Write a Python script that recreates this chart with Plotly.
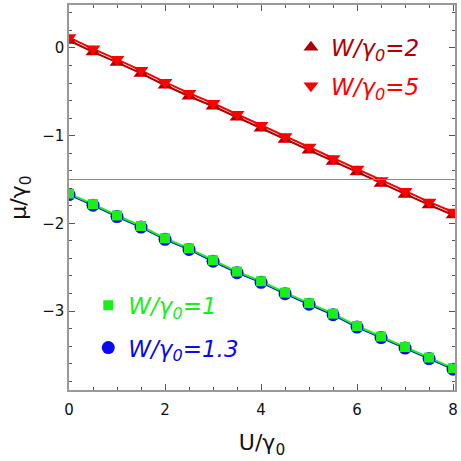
import plotly.graph_objects as go

# U / gamma_0 grid
u_vals = [0, 0.5, 1, 1.5, 2, 2.5, 3, 3.5, 4, 4.5, 5, 5.5, 6, 6.5, 7, 7.5, 8]

# mu / gamma_0 for each W / gamma_0
mu_w2 = [0.085, -0.045, -0.165, -0.29, -0.425, -0.55, -0.665, -0.79, -0.915, -1.045, -1.165,
         -1.295, -1.415, -1.545, -1.67, -1.79, -1.905]
mu_w5 = [0.12, -0.01, -0.13, -0.255, -0.39, -0.515, -0.63, -0.755, -0.88, -1.01, -1.13,
         -1.26, -1.38, -1.51, -1.635, -1.755, -1.87]
mu_w1 = [-1.66, -1.78, -1.91, -2.03, -2.17, -2.285, -2.42, -2.55, -2.66, -2.79, -2.91,
         -3.03, -3.17, -3.29, -3.41, -3.53, -3.65]
mu_w13 = [-1.672, -1.792, -1.922, -2.042, -2.182, -2.297, -2.432, -2.562, -2.672, -2.802, -2.922,
          -3.042, -3.182, -3.302, -3.422, -3.542, -3.662]

x_ticks = [0, 2, 4, 6, 8]
y_ticks = [-3, -2, -1, 0]
y_ref = -1.5

DARKRED = "#B00000"
RED = "#FF0000"
GREEN = "#19F019"
BLUE = "#0A0AF0"
FRAME = "#999999"
FONT = "DejaVu Sans"

series = [
    # name, values, colour, symbol, size, legend id
    ("W/γ<sub>0</sub>=2", mu_w2, DARKRED, "triangle-up", 13, "legend"),
    ("W/γ<sub>0</sub>=5", mu_w5, RED, "triangle-down", 13, "legend2"),
    ("W/γ<sub>0</sub>=1.3", mu_w13, BLUE, "circle", 13, "legend4"),
    ("W/γ<sub>0</sub>=1", mu_w1, GREEN, "square", 10, "legend3"),
]

fig = go.Figure()

for name, vals, col, sym, size, leg in series:
    fig.add_trace(go.Scatter(
        x=u_vals, y=vals, mode="lines",
        line=dict(color=col, width=2),
        showlegend=False, hoverinfo="skip",
    ))

for name, vals, col, sym, size, leg in series:
    fig.add_trace(go.Scatter(
        x=u_vals, y=vals, mode="markers",
        marker=dict(symbol=sym, size=size, color=col, line=dict(width=0)),
        name="<i>" + name + "</i>", legend=leg,
    ))

fig.add_hline(y=y_ref, line=dict(color="#888888", width=1))


def legend_box(x, y, col):
    return dict(
        x=x, y=y, xanchor="left", yanchor="middle",
        bgcolor="rgba(0,0,0,0)", borderwidth=0,
        font=dict(family=FONT, size=23, color=col),
        itemsizing="trace",
    )


axis_common = dict(
    showgrid=False, zeroline=False,
    showline=True, linecolor=FRAME, linewidth=1.5, mirror="ticks",
    ticks="inside", ticklen=6, tickwidth=1, tickcolor="#555555",
    tickfont=dict(family=FONT, size=15, color="#111"),
)

fig.update_layout(
    width=461, height=461,
    margin=dict(l=69, r=6, t=3, b=71),
    plot_bgcolor="white", paper_bgcolor="white",
    font=dict(family=FONT, color="#111"),
    xaxis=dict(
        range=[0, 8.04], tickvals=x_ticks, ticklabelstandoff=5,
        minor=dict(dtick=0.5, ticks="inside", ticklen=3, tickcolor="#555555"),
        title=dict(text="U/γ<sub>0</sub>", font=dict(family=FONT, size=22), standoff=17),
        **axis_common,
    ),
    yaxis=dict(
        range=[-3.9, 0.49], tickvals=y_ticks, ticktext=["−3", "−2", "−1", "0"],
        minor=dict(dtick=0.2, ticks="inside", ticklen=3, tickcolor="#555555"),
        title=dict(text="μ/γ<sub>0</sub>", font=dict(family=FONT, size=22), standoff=9),
        **axis_common,
    ),
    legend=legend_box(0.575, 0.89, DARKRED),
    legend2=legend_box(0.575, 0.79, RED),
    legend3=legend_box(0.05, 0.22, GREEN),
    legend4=legend_box(0.05, 0.11, BLUE),
)

# the page body has an 8px default margin; drop it so the figure sits at the corner
fig.write_html(
    "out.html",
    config={"displayModeBar": False},
    post_script="document.body.style.margin='0';",
)
